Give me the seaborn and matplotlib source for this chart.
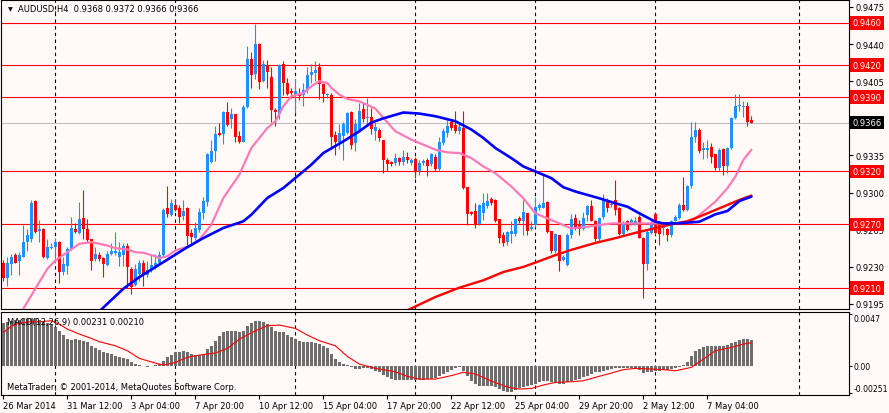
import matplotlib
matplotlib.use("Agg")
import matplotlib.pyplot as plt
import matplotlib.transforms as mtransforms
import pandas as pd
import seaborn as sns

# AUDUSD H4 candles, one row of ten bars per line
opens = [
    0.9234, 0.9219, 0.9233, 0.9241, 0.9235, 0.9239, 0.9253, 0.9256, 0.9292, 0.9264,
    0.9266, 0.9238, 0.9248, 0.9249, 0.9253, 0.9225, 0.9231, 0.9247, 0.9266, 0.9262,
    0.9276, 0.9266, 0.9256, 0.9237, 0.9241, 0.9238, 0.9232, 0.9242, 0.9243, 0.9239,
    0.9241, 0.9250, 0.9228, 0.9213, 0.9223, 0.9234, 0.9222, 0.9227, 0.9231, 0.9234,
    0.9241, 0.9285, 0.9279, 0.9288, 0.9285, 0.9278, 0.9285, 0.9262, 0.9257, 0.9265,
    0.9281, 0.9291, 0.9329, 0.9339, 0.9356, 0.9355, 0.9376, 0.9369, 0.9374, 0.9353,
    0.9348, 0.9381, 0.9426, 0.9412, 0.9440, 0.9405, 0.9420, 0.9409, 0.9378, 0.9374,
    0.9421, 0.9403, 0.9396, 0.9392, 0.9393, 0.9392, 0.9397, 0.9411, 0.9413, 0.9418,
    0.9402, 0.9392, 0.9392, 0.9354, 0.9348, 0.9353, 0.9356, 0.9376, 0.9347, 0.9359,
    0.9379, 0.9370, 0.9371, 0.9358, 0.9359, 0.9350, 0.9331, 0.9329, 0.9328, 0.9333,
    0.9329, 0.9334, 0.9328, 0.9332, 0.9320, 0.9328, 0.9331, 0.9327, 0.9334, 0.9322,
    0.9347, 0.9356, 0.9367, 0.9364, 0.9358, 0.9361, 0.9305, 0.9282, 0.9283, 0.9270,
    0.9281, 0.9287, 0.9294, 0.9293, 0.9275, 0.9260, 0.9253, 0.9261, 0.9261, 0.9276,
    0.9273, 0.9281, 0.9266, 0.9269, 0.9285, 0.9285, 0.9291, 0.9264, 0.9245, 0.9260,
    0.9236, 0.9232, 0.9260, 0.9276, 0.9269, 0.9266, 0.9279, 0.9287, 0.9273, 0.9256,
    0.9277, 0.9293, 0.9288, 0.9293, 0.9285, 0.9261, 0.9273, 0.9271, 0.9269, 0.9277,
    0.9257, 0.9233, 0.9262, 0.9280, 0.9270, 0.9267, 0.9266, 0.9260, 0.9273, 0.9276,
    0.9288, 0.9284, 0.9306, 0.9352, 0.9359, 0.9340, 0.9340, 0.9343, 0.9336, 0.9323,
    0.9341, 0.9325, 0.9342, 0.9370, 0.9382, 0.9381, 0.9382, 0.9368,
]
highs = [
    0.9236, 0.9239, 0.9242, 0.9243, 0.9244, 0.9269, 0.9266, 0.9293, 0.9293, 0.9274,
    0.9267, 0.9256, 0.9252, 0.9257, 0.9254, 0.9239, 0.9249, 0.9277, 0.9271, 0.9291,
    0.9302, 0.9275, 0.9256, 0.9249, 0.9244, 0.9239, 0.9245, 0.9252, 0.9263, 0.9253,
    0.9252, 0.9252, 0.9230, 0.9233, 0.9236, 0.9236, 0.9235, 0.9242, 0.9242, 0.9245,
    0.9285, 0.9306, 0.9294, 0.9294, 0.9288, 0.9293, 0.9286, 0.9266, 0.9272, 0.9285,
    0.9296, 0.9337, 0.9350, 0.9363, 0.9366, 0.9377, 0.9385, 0.9380, 0.9374, 0.9358,
    0.9383, 0.9438, 0.9433, 0.9459, 0.9441, 0.9425, 0.9425, 0.9418, 0.9380, 0.9421,
    0.9424, 0.9408, 0.9399, 0.9407, 0.9399, 0.9403, 0.9418, 0.9421, 0.9424, 0.9422,
    0.9403, 0.9394, 0.9394, 0.9358, 0.9365, 0.9367, 0.9376, 0.9377, 0.9369, 0.9384,
    0.9385, 0.9389, 0.9380, 0.9367, 0.9361, 0.9350, 0.9333, 0.9330, 0.9337, 0.9334,
    0.9340, 0.9338, 0.9333, 0.9334, 0.9331, 0.9332, 0.9333, 0.9337, 0.9336, 0.9352,
    0.9361, 0.9368, 0.9369, 0.9377, 0.9366, 0.9377, 0.9305, 0.9283, 0.9290, 0.9289,
    0.9300, 0.9300, 0.9296, 0.9294, 0.9275, 0.9263, 0.9264, 0.9273, 0.9276, 0.9278,
    0.9293, 0.9281, 0.9273, 0.9296, 0.9290, 0.9317, 0.9292, 0.9264, 0.9262, 0.9260,
    0.9241, 0.9262, 0.9280, 0.9280, 0.9274, 0.9282, 0.9288, 0.9293, 0.9274, 0.9277,
    0.9299, 0.9295, 0.9291, 0.9312, 0.9286, 0.9273, 0.9274, 0.9276, 0.9277, 0.9279,
    0.9258, 0.9265, 0.9274, 0.9282, 0.9273, 0.9269, 0.9267, 0.9274, 0.9279, 0.9290,
    0.9315, 0.9307, 0.9367, 0.9367, 0.9361, 0.9348, 0.9350, 0.9347, 0.9336, 0.9342,
    0.9342, 0.9343, 0.9371, 0.9393, 0.9393, 0.9386, 0.9385, 0.9372,
]
lows = [
    0.9217, 0.9212, 0.9222, 0.9234, 0.9222, 0.9239, 0.9245, 0.9253, 0.9262, 0.9253,
    0.9238, 0.9237, 0.9247, 0.9234, 0.9215, 0.9222, 0.9223, 0.9246, 0.9262, 0.9261,
    0.9256, 0.9253, 0.9227, 0.9235, 0.9235, 0.9220, 0.9231, 0.9241, 0.9241, 0.9231,
    0.9231, 0.9210, 0.9204, 0.9212, 0.9217, 0.9212, 0.9220, 0.9225, 0.9228, 0.9234,
    0.9239, 0.9277, 0.9278, 0.9283, 0.9271, 0.9274, 0.9250, 0.9252, 0.9255, 0.9263,
    0.9275, 0.9287, 0.9328, 0.9330, 0.9353, 0.9346, 0.9363, 0.9361, 0.9348, 0.9347,
    0.9348, 0.9380, 0.9399, 0.9407, 0.9398, 0.9404, 0.9399, 0.9367, 0.9363, 0.9369,
    0.9392, 0.9392, 0.9389, 0.9375, 0.9387, 0.9382, 0.9394, 0.9403, 0.9405, 0.9388,
    0.9385, 0.9389, 0.9342, 0.9335, 0.9341, 0.9331, 0.9355, 0.9341, 0.9339, 0.9358,
    0.9367, 0.9364, 0.9355, 0.9350, 0.9349, 0.9318, 0.9320, 0.9325, 0.9326, 0.9326,
    0.9326, 0.9328, 0.9326, 0.9314, 0.9317, 0.9326, 0.9316, 0.9325, 0.9320, 0.9320,
    0.9345, 0.9352, 0.9359, 0.9356, 0.9355, 0.9303, 0.9269, 0.9279, 0.9267, 0.9269,
    0.9274, 0.9285, 0.9288, 0.9272, 0.9252, 0.9250, 0.9251, 0.9252, 0.9259, 0.9271,
    0.9260, 0.9260, 0.9265, 0.9268, 0.9284, 0.9285, 0.9262, 0.9243, 0.9243, 0.9226,
    0.9235, 0.9231, 0.9257, 0.9265, 0.9260, 0.9265, 0.9273, 0.9273, 0.9254, 0.9254,
    0.9275, 0.9282, 0.9286, 0.9279, 0.9260, 0.9260, 0.9264, 0.9269, 0.9269, 0.9257,
    0.9201, 0.9227, 0.9261, 0.9260, 0.9251, 0.9260, 0.9254, 0.9258, 0.9273, 0.9275,
    0.9283, 0.9283, 0.9304, 0.9348, 0.9337, 0.9332, 0.9333, 0.9328, 0.9321, 0.9320,
    0.9317, 0.9318, 0.9341, 0.9369, 0.9377, 0.9371, 0.9363, 0.9366,
]
closes = [
    0.9219, 0.9234, 0.9239, 0.9234, 0.9241, 0.9253, 0.9260, 0.9290, 0.9263, 0.9266,
    0.9239, 0.9249, 0.9249, 0.9253, 0.9225, 0.9233, 0.9247, 0.9267, 0.9263, 0.9275,
    0.9266, 0.9255, 0.9235, 0.9242, 0.9237, 0.9233, 0.9242, 0.9245, 0.9245, 0.9244,
    0.9250, 0.9230, 0.9211, 0.9228, 0.9234, 0.9222, 0.9227, 0.9232, 0.9234, 0.9241,
    0.9284, 0.9280, 0.9290, 0.9284, 0.9277, 0.9283, 0.9259, 0.9258, 0.9267, 0.9282,
    0.9292, 0.9336, 0.9339, 0.9355, 0.9354, 0.9376, 0.9364, 0.9374, 0.9352, 0.9348,
    0.9381, 0.9426, 0.9411, 0.9440, 0.9404, 0.9421, 0.9414, 0.9378, 0.9376, 0.9420,
    0.9403, 0.9393, 0.9394, 0.9396, 0.9391, 0.9397, 0.9411, 0.9414, 0.9416, 0.9402,
    0.9393, 0.9393, 0.9352, 0.9348, 0.9356, 0.9365, 0.9375, 0.9345, 0.9365, 0.9377,
    0.9369, 0.9371, 0.9360, 0.9362, 0.9351, 0.9331, 0.9327, 0.9327, 0.9333, 0.9329,
    0.9334, 0.9331, 0.9331, 0.9320, 0.9328, 0.9330, 0.9325, 0.9336, 0.9322, 0.9348,
    0.9358, 0.9363, 0.9361, 0.9358, 0.9362, 0.9304, 0.9280, 0.9280, 0.9269, 0.9288,
    0.9290, 0.9292, 0.9290, 0.9273, 0.9257, 0.9252, 0.9263, 0.9264, 0.9275, 0.9273,
    0.9282, 0.9264, 0.9268, 0.9286, 0.9288, 0.9290, 0.9263, 0.9245, 0.9261, 0.9235,
    0.9239, 0.9260, 0.9275, 0.9266, 0.9266, 0.9276, 0.9287, 0.9273, 0.9256, 0.9276,
    0.9293, 0.9285, 0.9289, 0.9284, 0.9261, 0.9271, 0.9265, 0.9274, 0.9273, 0.9257,
    0.9233, 0.9263, 0.9271, 0.9262, 0.9261, 0.9268, 0.9260, 0.9273, 0.9277, 0.9288,
    0.9284, 0.9306, 0.9352, 0.9359, 0.9339, 0.9342, 0.9342, 0.9334, 0.9323, 0.9340,
    0.9325, 0.9342, 0.9370, 0.9382, 0.9382, 0.9382, 0.9367, 0.9366,
]

# moving averages, sampled every few bars
pink_bar = [4, 5, 8, 11, 13, 16, 19, 22, 23, 26, 28, 31, 33, 35, 38, 39, 41, 43, 47, 49,
            52, 55, 59, 62, 66, 68, 70, 72, 75, 77, 79, 81, 82, 84, 86, 89, 93, 95, 98, 102,
            105, 108, 111, 114, 117, 120, 123, 127, 130, 133, 135, 138, 142, 146, 149, 152,
            156, 160, 163, 168, 172, 175, 178, 181, 183, 185, 187]
pink_ma = [0.91860, 0.91904, 0.92093, 0.92280, 0.92360, 0.92438, 0.92517, 0.92532, 0.92526,
           0.92500, 0.92476, 0.92463, 0.92438, 0.92432, 0.92400, 0.92382, 0.92400, 0.92454,
           0.92501, 0.92556, 0.92697, 0.92949, 0.93169, 0.93420, 0.93609, 0.93672, 0.93814,
           0.93908, 0.93939, 0.94002, 0.94050, 0.94034, 0.93987, 0.93924, 0.93883, 0.93861,
           0.93792, 0.93704, 0.93578, 0.93499, 0.93452, 0.93404, 0.93379, 0.93373, 0.93325,
           0.93246, 0.93183, 0.93057, 0.92946, 0.92804, 0.92773, 0.92725, 0.92662, 0.92678,
           0.92694, 0.92709, 0.92709, 0.92709, 0.92709, 0.92709, 0.92725, 0.92820, 0.92915,
           0.93041, 0.93151, 0.93309, 0.93404]
blue_bar = [24, 30, 34, 38, 42, 46, 50, 55, 60, 62, 66, 70, 74, 77, 80, 85, 89, 92, 95, 100,
            104, 108, 113, 117, 120, 123, 127, 130, 133, 137, 140, 143, 146, 149, 153, 156,
            159, 163, 165, 168, 172, 174, 178, 181, 184, 187]
blue_ma = [0.91880, 0.92093, 0.92203, 0.92297, 0.92391, 0.92485, 0.92571, 0.92666, 0.92729,
           0.92791, 0.92949, 0.93043, 0.93169, 0.93263, 0.93373, 0.93483, 0.93578, 0.93660,
           0.93700, 0.93755, 0.93745, 0.93720, 0.93673, 0.93594, 0.93515, 0.93420, 0.93325,
           0.93246, 0.93199, 0.93136, 0.93050, 0.93010, 0.92978, 0.92946, 0.92899, 0.92867,
           0.92804, 0.92725, 0.92709, 0.92709, 0.92719, 0.92725, 0.92795, 0.92826, 0.92920,
           0.92962]
red_bar = [101, 108, 114, 120, 125, 130, 133, 138, 142, 148, 153, 158, 163, 168, 171, 174,
           178, 181, 184, 187]
red_ma = [0.91890, 0.92015, 0.92103, 0.92173, 0.92251, 0.92299, 0.92340, 0.92410, 0.92460,
          0.92525, 0.92570, 0.92620, 0.92665, 0.92709, 0.92730, 0.92773, 0.92836, 0.92883,
          0.92931, 0.92972]

# MACD(12,26,9): main histogram per bar, signal line sampled
macd_hist = [
    0.00389, 0.00395, 0.00404, 0.00420, 0.00420, 0.00426, 0.00426, 0.00432, 0.00432, 0.00420,
    0.00410, 0.00389, 0.00371, 0.00350, 0.00319, 0.00280, 0.00243, 0.00237, 0.00243, 0.00237,
    0.00228, 0.00213, 0.00182, 0.00158, 0.00146, 0.00122, 0.00116, 0.00106, 0.00091, 0.00082,
    0.00073, 0.00061, 0.00030, 0.00015, 0.00006, -0.00003, -0.00009, -0.00006, 0.00006, 0.00015,
    0.00046, 0.00076, 0.00097, 0.00122, 0.00128, 0.00137, 0.00122, 0.00106, 0.00097, 0.00097,
    0.00106, 0.00152, 0.00182, 0.00228, 0.00274, 0.00304, 0.00316, 0.00319, 0.00316, 0.00310,
    0.00319, 0.00359, 0.00389, 0.00407, 0.00407, 0.00401, 0.00380, 0.00350, 0.00319, 0.00310,
    0.00304, 0.00280, 0.00258, 0.00243, 0.00228, 0.00213, 0.00213, 0.00213, 0.00207, 0.00198,
    0.00182, 0.00158, 0.00106, 0.00061, 0.00030, 0.00015, 0.00006, -0.00015, -0.00030, -0.00030,
    -0.00024, -0.00024, -0.00030, -0.00046, -0.00055, -0.00085, -0.00106, -0.00122, -0.00128, -0.00128,
    -0.00128, -0.00128, -0.00128, -0.00128, -0.00131, -0.00128, -0.00122, -0.00122, -0.00116, -0.00097,
    -0.00076, -0.00055, -0.00036, -0.00024, -0.00015, -0.00046, -0.00091, -0.00137, -0.00167, -0.00182,
    -0.00182, -0.00188, -0.00188, -0.00198, -0.00213, -0.00228, -0.00237, -0.00237, -0.00219, -0.00207,
    -0.00198, -0.00188, -0.00176, -0.00167, -0.00152, -0.00137, -0.00137, -0.00146, -0.00158, -0.00167,
    -0.00167, -0.00152, -0.00137, -0.00128, -0.00122, -0.00106, -0.00091, -0.00076, -0.00061, -0.00055,
    -0.00046, -0.00036, -0.00030, -0.00018, -0.00018, -0.00024, -0.00024, -0.00024, -0.00030, -0.00036,
    -0.00067, -0.00061, -0.00055, -0.00046, -0.00046, -0.00036, -0.00036, -0.00030, -0.00024, -0.00015,
    0.00006, 0.00036, 0.00085, 0.00137, 0.00152, 0.00167, 0.00182, 0.00182, 0.00176, 0.00182,
    0.00176, 0.00188, 0.00207, 0.00219, 0.00237, 0.00243, 0.00243, 0.00231,
]
sig_bar = [0, 2, 4, 7, 9, 12, 14, 16, 19, 22, 24, 28, 31, 34, 38, 40, 43, 46, 49, 53,
           56, 59, 63, 66, 69, 73, 76, 79, 83, 86, 89, 93, 98, 101, 104, 108, 112, 115, 118, 122,
           126, 129, 132, 135, 138, 142, 145, 148, 152, 155, 158, 162, 165, 168, 172, 175, 178,
           182, 185, 187]
sig_val = [0.00304, 0.00359, 0.00389, 0.00401, 0.00401, 0.00410, 0.00380, 0.00334, 0.00289, 0.00249,
           0.00219, 0.00182, 0.00137, 0.00067, 0.00024, 0.00006, 0.00030, 0.00076, 0.00097, 0.00116,
           0.00158, 0.00243, 0.00319, 0.00365, 0.00371, 0.00340, 0.00280, 0.00228, 0.00182, 0.00085,
           0.00015, -0.00024, -0.00055, -0.00097, -0.00122, -0.00122, -0.00090, -0.00060, -0.00075, -0.00140,
           -0.00195, -0.00213, -0.00207, -0.00176, -0.00152, -0.00146, -0.00137, -0.00106, -0.00067, -0.00036,
           -0.00024, -0.00030, -0.00036, -0.00046, -0.00015, 0.00061, 0.00137, 0.00167, 0.00198, 0.00210]

levels = [0.9460, 0.9420, 0.9390, 0.9320, 0.9270, 0.9210]
bid = 0.9366
price_ticks = [0.9475, 0.9440, 0.9405, 0.9370, 0.9335, 0.9300, 0.9265, 0.9230, 0.9195]
macd_ticks = [0.0047, 0.0, -0.00251]
macd_tick_labels = ['0.0047', '0.00', '-0.00251']
week_bars = [13, 43, 73, 103, 133, 163, 199]
date_bars = [0, 16, 32, 48, 64, 80, 96, 112, 128, 144, 160, 176]
date_labels = ['26 Mar 2014', '31 Mar 12:00', '3 Apr 04:00', '7 Apr 20:00', '10 Apr 12:00',
               '15 Apr 04:00', '17 Apr 20:00', '22 Apr 12:00', '25 Apr 04:00', '29 Apr 20:00',
               '2 May 12:00', '7 May 04:00']

sns.set_style("white")
plt.rcParams['font.family'] = ['DejaVu Sans']

BG = '#fffaf8'
fig = plt.figure(figsize=(8.89, 4.14), dpi=100, facecolor=BG)
ax = fig.add_axes([1/889, 104/414, 848/889, 309/414], facecolor=BG)
ax2 = fig.add_axes([1/889, 18/414, 848/889, 83/414], facecolor=BG)

# candles
df = pd.DataFrame({'open': opens, 'high': highs, 'low': lows, 'close': closes})
df['bar'] = range(len(df))
col = ['#1e90ff' if c >= o else '#ff0000' for o, c in zip(df['open'], df['close'])]
ax.vlines(df['bar'], df['low'], df['high'], colors=col, lw=0.8, zorder=4)
body = (df['close'] - df['open']).abs().clip(lower=0.00004)
ax.bar(df['bar'], body, bottom=df[['open', 'close']].min(axis=1), width=0.62,
       color=col, linewidth=0, zorder=4)

# moving averages
sns.lineplot(x=pink_bar, y=pink_ma, ax=ax, color='#ff7ab8', lw=1.6, zorder=5)
sns.lineplot(x=red_bar, y=red_ma, ax=ax, color='#ff0000', lw=1.7, zorder=5)
sns.lineplot(x=blue_bar, y=blue_ma, ax=ax, color='#0000ff', lw=1.9, zorder=5)

for lvl in levels:
    ax.axhline(lvl, color='#ff0000', lw=0.8, zorder=2)
ax.axhline(bid, color='#c0c0c0', lw=0.8, zorder=2)

for a in (ax, ax2):
    for b in week_bars:
        a.axvline(b, color='black', lw=0.8, ls=(0, (3, 3)), zorder=1)

ax.set_xlim(-0.575, 211.4)
ax.set_ylim(0.91902, 0.94816)
ax.set_xticks([])
ax.yaxis.tick_right()
ax.set_yticks(price_ticks, ['%.4f' % t for t in price_ticks])
ax.tick_params(axis='y', direction='out', length=3, width=0.8, labelsize=6, pad=2,
               colors='black', right=True)
ax.set_xlabel('')
ax.set_ylabel('')

# level boxes sit on top of the price scale, as in the terminal
tr = mtransforms.blended_transform_factory(ax.transAxes, ax.transData)
for lvl in levels:
    ax.text(1.004, lvl, '%.4f' % lvl, transform=tr, ha='left', va='center', fontsize=6,
            color='white', clip_on=False, zorder=6,
            bbox=dict(boxstyle='square,pad=0.28', facecolor='#ff0000', edgecolor='none'))
ax.text(1.004, bid, '%.4f' % bid, transform=tr, ha='left', va='center', fontsize=6,
        color='white', clip_on=False, zorder=6,
        bbox=dict(boxstyle='square,pad=0.28', facecolor='black', edgecolor='none'))

ax.text(0.0105, 0.971, '\u25bc', transform=ax.transAxes, ha='center', va='center',
        fontsize=4.5, color='black')
ax.text(0.0200, 0.971, 'AUDUSD,H4  0.9368 0.9372 0.9366 0.9366', transform=ax.transAxes,
        ha='left', va='center', fontsize=6, color='black')

# MACD panel
macd_df = pd.DataFrame({'bar': range(len(macd_hist)), 'hist': macd_hist})
sns.barplot(data=macd_df, x='bar', y='hist', ax=ax2, native_scale=True, color='#6e6e6e',
            saturation=1, width=0.75, errorbar=None, linewidth=0, zorder=3)
sns.lineplot(x=sig_bar, y=sig_val, ax=ax2, color='#ff0000', lw=0.8, zorder=4)

ax2.set_xlim(-0.575, 211.4)
ax2.set_ylim(-0.00267, 0.00490)
ax2.yaxis.tick_right()
ax2.set_yticks(macd_ticks, macd_tick_labels)
ax2.tick_params(axis='y', direction='out', length=2, width=0.8, labelsize=5.6, pad=1,
                colors='black', right=True)
ylabels = ax2.get_yticklabels()
ylabels[0].set_verticalalignment('top')
ylabels[-1].set_verticalalignment('bottom')
ax2.set_xticks(date_bars, date_labels, ha='left')
ax2.tick_params(axis='x', direction='out', length=3, width=0.8, labelsize=6, pad=1.5,
                colors='black', bottom=True)
ax2.set_xlabel('')
ax2.set_ylabel('')
ax2.text(0.007, 0.88, 'MACD(12,26,9) 0.00231 0.00210', transform=ax2.transAxes,
         ha='left', va='center', fontsize=6, color='black', zorder=6)
ax2.text(0.007, 0.10, 'MetaTrader, \u00a9 2001-2014, MetaQuotes Software Corp.',
         transform=ax2.transAxes, ha='left', va='center', fontsize=6, color='black', zorder=6)

for a in (ax, ax2):
    for s in a.spines.values():
        s.set_color('black')
        s.set_linewidth(0.8)

fig.savefig('out.png', dpi=100, facecolor=BG)
